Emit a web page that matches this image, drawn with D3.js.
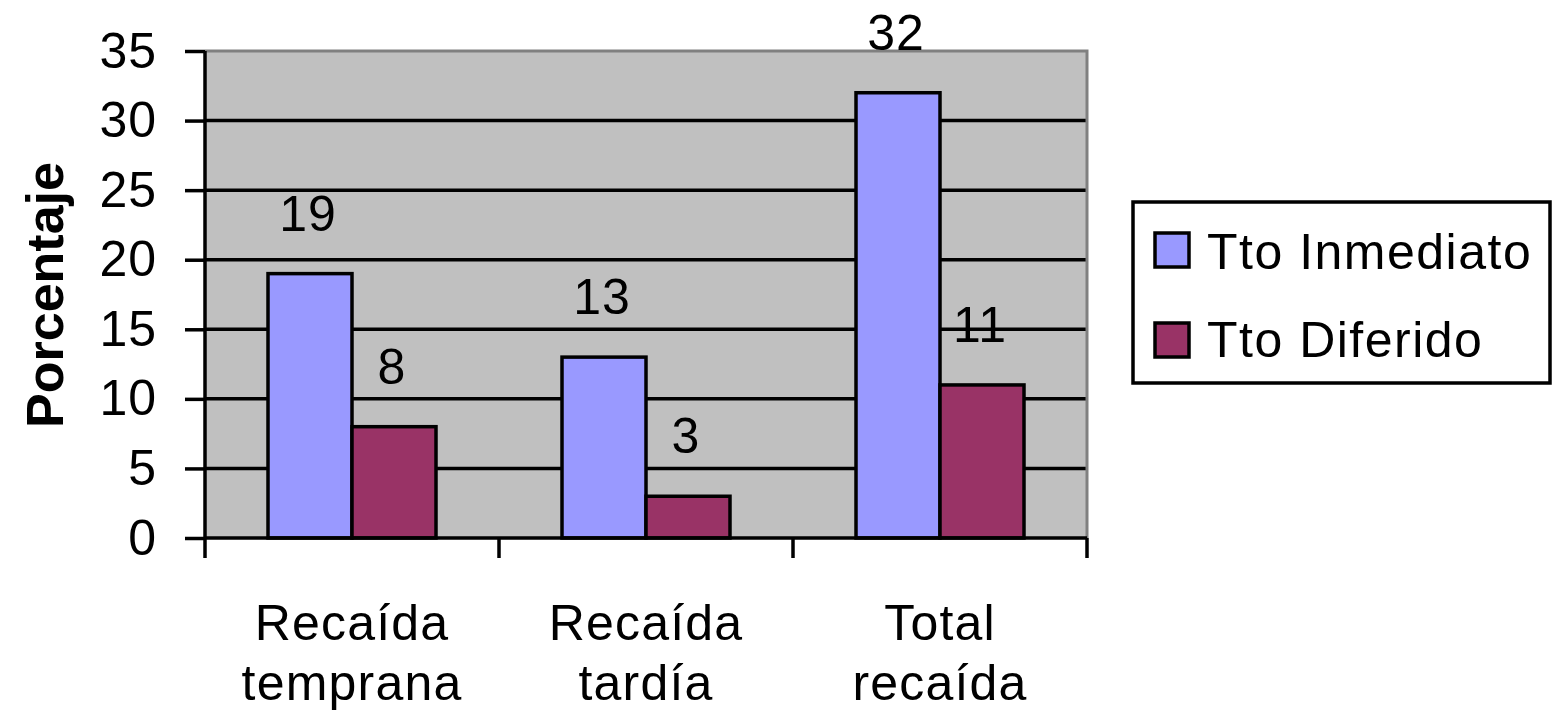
<!DOCTYPE html>
<html><head><meta charset="utf-8">
<script src="https://cdn.jsdelivr.net/npm/d3@7"></script>
<style>
html,body{margin:0;padding:0;background:#fff;}
text{font-family:"Liberation Sans",Arial,sans-serif;fill:#000;}
</style></head>
<body>
<svg id="c" width="1552" height="719"></svg>
<script>
const categories = [["Recaída","temprana"],["Recaída","tardía"],["Total","recaída"]];
const seriesNames = ["Tto Inmediato","Tto Diferido"];
const inmediato = [19, 13, 32];
const diferido = [8, 3, 11];
const yTicks = [0,5,10,15,20,25,30,35];
const colors = ["#9999ff","#993366"];

const svg = d3.select("#c");
const L=205, R=1087, T=51, B=538;
const SW=3.5;
const y = d3.scaleLinear().domain([0,35]).range([B,T]);
const x = d3.scaleBand().domain(d3.range(categories.length)).range([L,R]).paddingInner(0).paddingOuter(0);
const xs = d3.scaleBand().domain(d3.range(seriesNames.length)).range([0,x.bandwidth()]).paddingInner(0).paddingOuter(0.75);
const values = [inmediato, diferido];

svg.append("rect").attr("x",L).attr("y",T).attr("width",R-L).attr("height",B-T).attr("fill","#c0c0c0");
svg.append("g").selectAll("line").data(yTicks.filter(t=>t>0&&t<35)).join("line")
  .attr("x1",L).attr("x2",R).attr("y1",d=>y(d)).attr("y2",d=>y(d))
  .attr("stroke","#000").attr("stroke-width",SW);
svg.append("path").attr("d",`M${L},${T}H${R}V${B}`).attr("fill","none").attr("stroke","#808080").attr("stroke-width",3);

values.forEach((vals,si)=>{
  svg.append("g").selectAll("rect").data(vals).join("rect")
    .attr("x",(d,i)=>x(i)+xs(si)).attr("width",xs.bandwidth())
    .attr("y",d=>y(d)).attr("height",d=>B-y(d))
    .attr("fill",colors[si]).attr("stroke","#000").attr("stroke-width",SW);
  svg.append("g").selectAll("text").data(vals).join("text")
    .attr("x",(d,i)=>x(i)+xs(si)+xs.bandwidth()/2-2).attr("y",d=>y(d)-43)
    .attr("text-anchor","middle").attr("font-size",50).attr("letter-spacing",1)
    .text(d=>d);
});

const yAxis = d3.axisLeft(y).tickValues(yTicks).tickSize(20).tickPadding(28);
const gy = svg.append("g").attr("transform",`translate(${L},0)`).call(yAxis);
gy.select(".domain").attr("stroke","#000").attr("stroke-width",SW).attr("d",`M0,${T}V${B}`);
gy.selectAll(".tick line").attr("stroke","#000").attr("stroke-width",SW);
gy.selectAll(".tick text").attr("font-size",50).attr("letter-spacing",1).attr("font-family","Liberation Sans, Arial, sans-serif").attr("fill","#000");

svg.append("line").attr("x1",L).attr("x2",R).attr("y1",B).attr("y2",B).attr("stroke","#000").attr("stroke-width",SW);
const xb = d3.range(categories.length+1).map(i=> i<categories.length ? x(i) : x(i-1)+x.bandwidth());
svg.append("g").selectAll("line").data(xb).join("line")
  .attr("x1",d=>d).attr("x2",d=>d).attr("y1",B).attr("y2",B+20).attr("stroke","#000").attr("stroke-width",SW);
const cl = svg.append("g").selectAll("text").data(categories).join("text")
  .attr("text-anchor","middle").attr("font-size",50).attr("letter-spacing",1.2);
cl.each(function(d,i){
  const t=d3.select(this);
  d.forEach((line,j)=>t.append("tspan").attr("x",x(i)+x.bandwidth()/2).attr("y",640+j*60).text(line));
});

svg.append("text").attr("transform","translate(63,295) rotate(-90)").attr("text-anchor","middle")
  .attr("font-size",52).attr("font-weight","bold").text("Porcentaje");

svg.append("rect").attr("x",1133).attr("y",202).attr("width",417).attr("height",181)
  .attr("fill","#fff").attr("stroke","#000").attr("stroke-width",SW);
seriesNames.forEach((n,i)=>{
  svg.append("rect").attr("x",1155).attr("y",233+i*90).attr("width",34).attr("height",34)
    .attr("fill",colors[i]).attr("stroke","#000").attr("stroke-width",SW);
  svg.append("text").attr("x",1207).attr("y",269+i*88).attr("font-size",50).attr("letter-spacing",1.5).text(n);
});
</script>
</body></html>
